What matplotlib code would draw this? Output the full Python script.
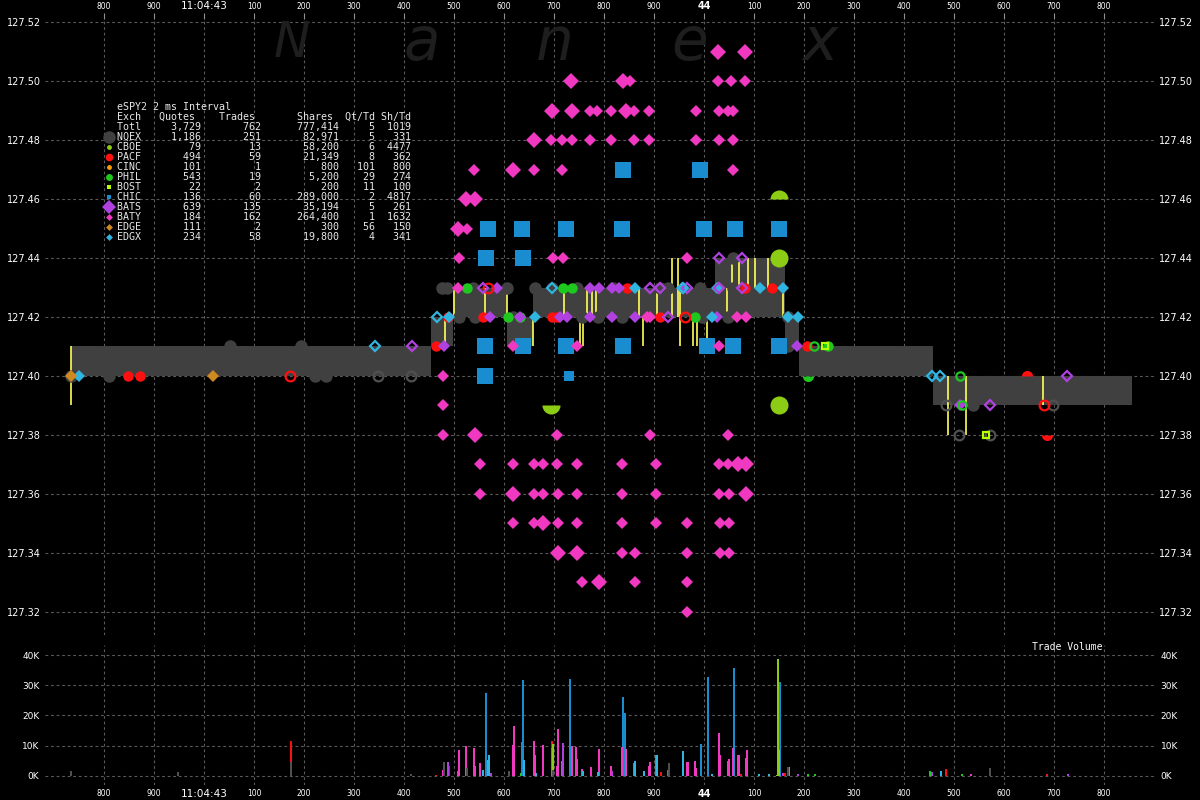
import matplotlib
matplotlib.use('Agg')
import matplotlib.pyplot as plt

# 1. 데이터 (x = ms after 11:04:43.000)
exch = ['NQEX', 'CBOE', 'PACF', 'CINC', 'PHIL', 'BOST', 'CHIC', 'BATS', 'BATY', 'EDGE', 'EDGX']
quotes = [1186, 79, 494, 101, 543, 22, 136, 639, 184, 111, 234]
trades = [251, 13, 59, 1, 19, 2, 60, 135, 162, 2, 58]
shares = [82971, 58200, 21349, 800, 5200, 200, 289000, 35194, 264400, 300, 19800]
qt_td = [5, 6, 8, 101, 29, 11, 2, 5, 1, 56, 4]
sh_td = [331, 4477, 362, 800, 274, 100, 4817, 261, 1632, 150, 341]
totl = [3729, 762, 777414, 5, 1019]

xt = list(range(-200, 1900, 100))
xlab = ['800', '900', '11:04:43', '100', '200', '300', '400', '500', '600', '700', '800', '900',
        '44', '100', '200', '300', '400', '500', '600', '700', '800']
yt = [127.32, 127.34, 127.36, 127.38, 127.40, 127.42, 127.44, 127.46, 127.48, 127.50, 127.52]

# NBBO band (step post)
band_t = [-266, 454, 498, 606, 658, 1022, 1162, 1190, 1458, 1544, 1856]
band_bid = [127.40, 127.41, 127.42, 127.41, 127.42, 127.42, 127.41, 127.40, 127.39, 127.39, 127.39]
band_ask = [127.41, 127.42, 127.43, 127.42, 127.43, 127.44, 127.42, 127.41, 127.40, 127.40, 127.40]

# trades (yellow lines)
trade_t = [-266, 482, 500, 562, 606, 658, 720, 752, 758, 766, 776, 784, 870, 878, 906, 936, 948, 952,
           978, 986, 1006, 1046, 1056, 1070, 1088, 1102, 1128, 1158, 1488, 1524, 1678]
trade_lo = [127.39, 127.41, 127.42, 127.42, 127.42, 127.41, 127.42, 127.41, 127.41, 127.42, 127.42, 127.42,
            127.42, 127.41, 127.42, 127.42, 127.42, 127.41, 127.41, 127.41, 127.41, 127.42, 127.43, 127.43,
            127.43, 127.43, 127.43, 127.42, 127.38, 127.38, 127.39]
trade_hi = [127.41, 127.42, 127.43, 127.43, 127.43, 127.42, 127.43, 127.42, 127.42, 127.43, 127.43, 127.43,
            127.43, 127.42, 127.43, 127.44, 127.44, 127.43, 127.42, 127.42, 127.42, 127.43, 127.44, 127.44,
            127.44, 127.44, 127.44, 127.43, 127.40, 127.40, 127.40]

# BATY quotes
baty_big_t = [1028, 1082, 734, 838, 696, 736, 844, 660, 618, 524, 542, 508, 542, 1068, 1084, 618, 1084,
              678, 708, 746, 790]
baty_big_p = [127.51, 127.51, 127.50, 127.50, 127.49, 127.49, 127.49, 127.48, 127.47, 127.46, 127.46,
              127.45, 127.38, 127.37, 127.37, 127.36, 127.36, 127.35, 127.34, 127.34, 127.33]
baty_t = [852, 1028, 1054, 1082,
          772, 786, 814, 860, 890, 984, 1030, 1048, 1058,
          694, 716, 736, 772, 814, 860, 890, 984, 1030, 1058,
          540, 660, 716, 1058,
          526,
          510, 698, 718, 966,
          508,
          886, 892, 1066, 1084,
          618, 746, 1030,
          478, 478,
          478, 706, 892, 1048,
          552, 618, 660, 678, 706, 746, 836, 904, 1030, 1048,
          552, 660, 678, 708, 746, 836, 904, 1030, 1050,
          618, 660, 708, 746, 836, 904, 966, 1032, 1050,
          836, 862, 966, 1032, 1050,
          756, 862, 966,
          966]
baty_p = ([127.50] * 4 + [127.49] * 9 + [127.48] * 10 + [127.47] * 4 + [127.45] + [127.44] * 4 +
          [127.43] + [127.42] * 4 + [127.41] * 3 + [127.40, 127.39] + [127.38] * 4 + [127.37] * 10 +
          [127.36] * 9 + [127.35] * 9 + [127.34] * 5 + [127.33] * 3 + [127.32])

# CHIC
chic_t = [838, 992, 568, 636, 724, 836, 1000, 1062, 1150, 564, 638, 562, 638, 724, 838, 1006, 1058, 1150, 562]
chic_p = [127.47, 127.47, 127.45, 127.45, 127.45, 127.45, 127.45, 127.45, 127.45, 127.44, 127.44,
          127.41, 127.41, 127.41, 127.41, 127.41, 127.41, 127.41, 127.40]
chic_small_t = [730]
chic_small_p = [127.40]

# CBOE
cboe_t = [1150, 1150]
cboe_p = [127.44, 127.39]
cboe_top_t = [1150]
cboe_top_p = [127.46]
cboe_bot_t = [694]
cboe_bot_p = [127.39]

# NQEX
nqex_t = [-266, -190, 222, 244, 52, 194,
          476, 486, 538, 606, 662, 696, 746, 818, 912, 928, 992, 1058, 1148,
          510, 542, 618, 756, 788, 836, 996, 1048, 1168, 1168, 1538, 1058]
nqex_p = [127.40, 127.40, 127.40, 127.40, 127.41, 127.41] + [127.43] * 13 + [127.42] * 9 + [127.41, 127.39, 127.44]
nqex_open_t = [348, 414, 1484, 1698, 1510, 1572]
nqex_open_p = [127.40, 127.40, 127.39, 127.39, 127.38, 127.38]

# PACF
pacf_t = [-152, -128, 464, 846, 1082, 1136, 488, 558, 696, 706, 912, 1206]
pacf_p = [127.40, 127.40, 127.41, 127.43, 127.43, 127.43, 127.42, 127.42, 127.42, 127.42, 127.42, 127.41]
pacf_open_t = [172, 568, 962, 1680]
pacf_open_p = [127.40, 127.43, 127.42, 127.39]
pacf_top_t = [1646]
pacf_top_p = [127.40]
pacf_bot_t = [1686]
pacf_bot_p = [127.38]

# PHIL
phil_t = [526, 718, 736, 608, 632, 982, 1248]
phil_p = [127.43, 127.43, 127.43, 127.42, 127.42, 127.42, 127.41]
phil_open_t = [1220, 1512, 1516]
phil_open_p = [127.41, 127.40, 127.39]
phil_bot_t = [1208]
phil_bot_p = [127.40]

# BATS
bats_t = [586, 772, 790, 816, 830, 572, 632, 712, 726, 772, 816, 862, 1026, 480, 1186, 1512]
bats_p = [127.43] * 5 + [127.42] * 8 + [127.41, 127.41, 127.39]
bats_open_t = [416, 558, 892, 912, 966, 1030, 1076, 928, 1030, 1076, 1726, 1572]
bats_open_p = [127.41, 127.43, 127.43, 127.43, 127.43, 127.43, 127.43, 127.42, 127.44, 127.44, 127.40, 127.39]

# EDGX
edgx_t = [-250, 862, 956, 1026, 1112, 1158, 490, 662, 1016, 1168, 1188]
edgx_p = [127.40] + [127.43] * 5 + [127.42] * 5
edgx_open_t = [342, 466, 1456, 1472, 958, 696]
edgx_open_p = [127.41, 127.42, 127.40, 127.40, 127.43, 127.43]

# EDGE / BOST
edge_t = [-266, 18]
edge_p = [127.40, 127.40]
bost_open_t = [1564, 1242]
bost_open_p = [127.38, 127.41]

# trade volume (K shares)
vol_nqex_t = [-266, -52, 174, 414, 480, 526, 610, 698, 930, 1168, 1572]
vol_nqex_k = [1.7, 1.3, 4.6, 0.8, 4.5, 2.5, 1.5, 2.0, 4.3, 3.0, 2.6]
vol_pacf_t = [174, 464, 490, 696, 914, 1074, 1162, 1484, 1686]
vol_pacf_k = [11.5, 0.3, 3.3, 11.6, 1.2, 0.6, 0.9, 2.3, 0.7]
vol_cboe_t = [698, 1146, 1148, 1150]
vol_cboe_k = [10.5, 0.3, 38.8, 8.7]
vol_phil_t = [634, 1208, 1222, 1452, 1516]
vol_phil_k = [1.0, 0.5, 0.5, 1.8, 0.7]
vol_chic_t = [564, 636, 638, 732, 838, 842, 994, 1008, 1060, 1152]
vol_chic_k = [27.5, 11.3, 31.6, 32.0, 26.1, 20.9, 10.7, 32.6, 35.6, 31.1]
vol_bats_t = [488, 574, 718, 816, 928, 1158, 1188, 1456, 1728]
vol_bats_k = [4.5, 1.0, 11.0, 1.8, 2.0, 1.0, 0.7, 1.4, 0.5]
vol_baty_t = [478, 508, 510, 524, 540, 542, 552, 618, 620, 660, 662, 678, 696, 706, 708, 716, 736, 744,
              746, 756, 774, 790, 814, 836, 844, 860, 890, 892, 904, 966, 968, 982, 984, 1030, 1032,
              1048, 1050, 1058, 1068, 1070, 1084, 1086, 1534]
vol_baty_k = [2.0, 1.7, 8.6, 9.8, 9.2, 3.3, 4.3, 10.3, 16.6, 11.7, 6.9, 10.4, 9.3, 3.3, 15.6, 5.0, 9.8, 9.5,
              5.6, 2.3, 3.0, 8.8, 3.3, 9.5, 8.9, 4.4, 3.3, 4.6, 6.8, 4.6, 4.6, 5.0, 2.7, 14.3, 6.9,
              5.0, 5.6, 9.2, 6.9, 6.9, 5.9, 8.5, 0.7]
vol_edgx_t = [558, 568, 570, 640, 664, 758, 788, 862, 880, 906, 958, 1016, 1110, 1130, 1170, 1474]
vol_edgx_k = [2.0, 5.2, 6.9, 5.3, 1.0, 1.8, 1.3, 4.9, 1.7, 7.1, 8.3, 0.5, 0.7, 0.5, 3.0, 1.5]

# colours
c_nqex, c_cboe, c_pacf, c_cinc = '#404040', '#8ccc14', '#ff1010', '#f0a000'
c_phil, c_bost, c_chic, c_bats = '#1ec81e', '#b4ff00', '#1a8cd0', '#b040e0'
c_baty, c_edge, c_edgx = '#f038c0', '#d08820', '#30b4e0'
ex_colors = [c_nqex, c_cboe, c_pacf, c_cinc, c_phil, c_bost, c_chic, c_bats, c_baty, c_edge, c_edgx]

# 2. 그림
fig = plt.figure(figsize=(12, 8), dpi=100, facecolor='black')
ax = fig.add_axes([45 / 1200, 165 / 800, 1110 / 1200, 616 / 800], facecolor='black')
axv = fig.add_axes([45 / 1200, 15 / 800, 1110 / 1200, 140 / 800], facecolor='black')
top = fig.add_axes([0, 0, 1, 1], facecolor='none')
top.set_xlim(0, 1200)
top.set_ylim(800, 0)
top.axis('off')

grid_kw = dict(color='#5a5a5a', linestyle=(0, (2.5, 2.5)), linewidth=0.8)

# main price panel
ax.set_xlim(-318, 1902)
ax.set_ylim(127.3122, 127.52102)
ax.set_yticks(yt)
ax.set_yticklabels(['%.2f' % v for v in yt])
ax.tick_params(axis='y', length=0, labelsize=7, labelcolor='white', pad=3, labelright=True)
ax.xaxis.tick_top()
ax.set_xticks(xt)
ax.set_xticklabels(xlab)
ax.tick_params(axis='x', colors='#909090', length=4, width=0.8, pad=2, labelsize=5.5, labelcolor='white')
for lbl in ax.get_xticklabels():
    if lbl.get_text() == '11:04:43':
        lbl.set_fontsize(7.5)
    if lbl.get_text() == '44':
        lbl.set_fontsize(7)
        lbl.set_fontweight('bold')
ax.grid(True, **grid_kw)
ax.set_axisbelow(True)
for s in ax.spines.values():
    s.set_visible(False)

# watermark
for ch, px in zip('Nanex', [292, 422, 555, 690, 820]):
    ax.text(px / 1200, 1 - 43 / 800, ch, transform=fig.transFigure, fontsize=35 if ch == 'N' else 43,
            style='italic', color='#1e1e1e', ha='center', va='center', zorder=1)

ax.fill_between(band_t, band_bid, band_ask, step='post', color='#404040', lw=0, zorder=2)
ax.vlines(trade_t, trade_lo, trade_hi, color='#ffff55', lw=1.2, zorder=3)


def filled(t, p, m, c, s, z=5):
    ax.plot(t, p, ls='none', marker=m, ms=s, color=c, mec=c, mew=0, zorder=z)


def hollow(t, p, m, c, s, z=6):
    ax.plot(t, p, ls='none', marker=m, ms=s, mfc='none', mec=c, mew=1.6, zorder=z)


def half(t, p, c, s, side, z=5):
    ax.plot(t, p, ls='none', marker='o', ms=s, color=c, fillstyle=side, mfc=c,
            markerfacecoloralt='none', mec='none', mew=0, zorder=z)


filled(nqex_t, nqex_p, 'o', c_nqex, 9, z=4)
hollow(nqex_open_t, nqex_open_p, 'o', '#505050', 7)
filled(chic_t, chic_p, 's', c_chic, 11)
filled(chic_small_t, chic_small_p, 's', c_chic, 6.5)
filled(cboe_t, cboe_p, 'o', c_cboe, 13)
half(cboe_top_t, cboe_top_p, c_cboe, 13, 'top')
half(cboe_bot_t, cboe_bot_p, c_cboe, 13, 'bottom')
filled(pacf_t, pacf_p, 'o', c_pacf, 7.5)
hollow(pacf_open_t, pacf_open_p, 'o', c_pacf, 7)
half(pacf_top_t, pacf_top_p, c_pacf, 8, 'top')
half(pacf_bot_t, pacf_bot_p, c_pacf, 8, 'bottom')
filled(phil_t, phil_p, 'o', c_phil, 7.5)
hollow(phil_open_t, phil_open_p, 'o', c_phil, 6)
half(phil_bot_t, phil_bot_p, c_phil, 8, 'bottom')
filled(bats_t, bats_p, 'D', c_bats, 6.5)
hollow(bats_open_t, bats_open_p, 'D', c_bats, 5.5)
filled(edgx_t, edgx_p, 'D', c_edgx, 6.5)
hollow(edgx_open_t, edgx_open_p, 'D', c_edgx, 5.5)
filled(edge_t, edge_p, 'D', c_edge, 6.5)
hollow(bost_open_t, bost_open_p, 's', c_bost, 5)
filled(baty_t, baty_p, 'D', c_baty, 6.6, z=7)
filled(baty_big_t, baty_big_p, 'D', c_baty, 8.5, z=7)

# volume panel
axv.set_xlim(-318, 1902)
axv.set_ylim(-2.98, 43.31)
axv.set_yticks([0, 10, 20, 30, 40])
axv.set_yticklabels(['0K', '10K', '20K', '30K', '40K'])
axv.tick_params(axis='y', length=0, labelsize=6.5, labelcolor='white', pad=4, labelright=True)
axv.set_xticks(xt)
axv.set_xticklabels(xlab)
axv.tick_params(axis='x', length=0, pad=3, labelsize=5.5, labelcolor='white')
for lbl in axv.get_xticklabels():
    if lbl.get_text() == '11:04:43':
        lbl.set_fontsize(7.5)
    if lbl.get_text() == '44':
        lbl.set_fontsize(7)
        lbl.set_fontweight('bold')
axv.grid(True, **grid_kw)
axv.set_axisbelow(True)
for s in axv.spines.values():
    s.set_visible(False)

vol_sets = [(vol_pacf_t, vol_pacf_k, c_pacf), (vol_chic_t, vol_chic_k, c_chic),
            (vol_baty_t, vol_baty_k, c_baty), (vol_cboe_t, vol_cboe_k, c_cboe),
            (vol_edgx_t, vol_edgx_k, c_edgx), (vol_bats_t, vol_bats_k, c_bats),
            (vol_phil_t, vol_phil_k, c_phil), (vol_nqex_t, vol_nqex_k, '#505050')]
for t, k, c in vol_sets:
    axv.bar(t, k, width=3.5, color=c, lw=0, zorder=3)

top.text(1103, 647, 'Trade Volume', fontsize=7, family='DejaVu Sans Mono', color='white',
         ha='right', va='center')

# stats table
rows = ['eSPY2 2 ms Interval',
        f"{'Exch':<4}{'Quotes':>9}{'Trades':>10}{'Shares':>13}{'Qt/Td':>7}{'Sh/Td':>6}",
        f"{'Totl':<4}{totl[0]:>10,}{totl[1]:>10,}{totl[2]:>13,}{totl[3]:>6}{totl[4]:>6}"]
for i in range(len(exch)):
    rows.append(f"{exch[i]:<4}{quotes[i]:>10,}{trades[i]:>10,}{shares[i]:>13,}{qt_td[i]:>6}{sh_td[i]:>6}")
for i, r in enumerate(rows):
    top.text(117, 107 + 10 * i, r, fontsize=7.2, family='DejaVu Sans Mono', color='#e8e8e8',
             ha='left', va='center')

leg_marker = ['o', 'o', 'o', 'o', 'o', 's', 's', 'D', 'D', 'D', 'D']
leg_size = [9, 3.5, 5.5, 3.5, 5, 3.5, 3.5, 7, 3.5, 3.5, 3.5]
for i in range(len(exch)):
    top.plot(109, 137 + 10 * i, ls='none', marker=leg_marker[i], ms=leg_size[i],
             color=ex_colors[i], mew=0)

fig.savefig('out.png', dpi=100, facecolor='black')
